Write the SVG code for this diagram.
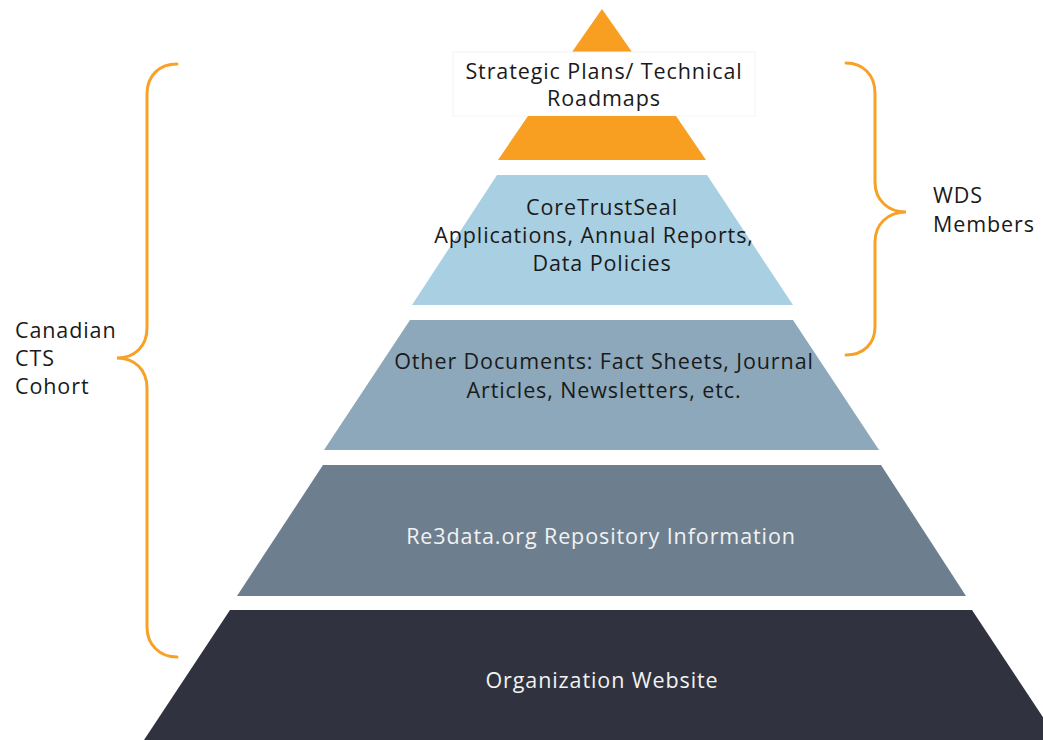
<svg xmlns="http://www.w3.org/2000/svg" width="1043" height="740" viewBox="0 0 1043 740">
<style>
.t{font-family:"Open Sans","Liberation Sans",sans-serif;font-size:21.5px;letter-spacing:0.9px;fill:#1a1a1a;text-anchor:middle}
.w{fill:#f2f2f2}
.l{text-anchor:start}
.brace{fill:none;stroke:#f7a127;stroke-width:3;stroke-linecap:round}
</style>
<rect width="1043" height="740" fill="#fff"/>
<g id="layer-strategic">
<polygon points="602,9 632,52 572,52" fill="#f89e20"/>
<rect x="453" y="52" width="302" height="64" fill="#fff" stroke="#f4f4f4" stroke-width="1"/>
<polygon points="528,116 676,116 706,160 498,160" fill="#f89e20"/>
<text class="t" x="604" y="79">Strategic Plans/ Technical</text>
<text class="t" x="604" y="106">Roadmaps</text>
</g>
<g id="layer-coretrustseal">
<polygon points="497,175 707,175 793,305 412,305" fill="#a9cfe3"/>
<text class="t" x="602" y="215">CoreTrustSeal</text>
<text class="t" x="594" y="243">Applications, Annual Reports,</text>
<text class="t" x="602" y="271">Data Policies</text>
</g>
<g id="layer-other">
<polygon points="410,320 793,320 879,450 324,450" fill="#8ca8ba"/>
<text class="t" x="604" y="369">Other Documents: Fact Sheets, Journal</text>
<text class="t" x="604" y="398">Articles, Newsletters, etc.</text>
</g>
<g id="layer-re3data">
<polygon points="323,465 881,465 966,596 237,596" fill="#6d7f8f"/>
<text class="t w" x="601" y="544">Re3data.org Repository Information</text>
</g>
<g id="layer-website">
<polygon points="230,610 972,610 1058,740 144,740" fill="#30323f"/>
<text class="t w" x="602" y="688">Organization Website</text>
</g>
<g id="connectors">
<path class="brace" d="M177,64 C160,64 147,75 147,94 L147,328 C147,346 135,358 117,358 C135,358 147,370 147,388 L147,627 C147,645 160,657 177,657"/>
<path class="brace" d="M846,63 C863,63 875,75 875,93 L875,182 C875,200 888,212 906,212 C888,212 875,224 875,242 L875,327 C875,344 863,355 846,355"/>
</g>
<g id="label-canadian">
<text class="t l" x="15" y="338">Canadian</text>
<text class="t l" x="15" y="366">CTS</text>
<text class="t l" x="15" y="394">Cohort</text>
</g>
<g id="label-wds">
<text class="t l" x="933" y="203">WDS</text>
<text class="t l" x="933" y="232">Members</text>
</g>
</svg>
